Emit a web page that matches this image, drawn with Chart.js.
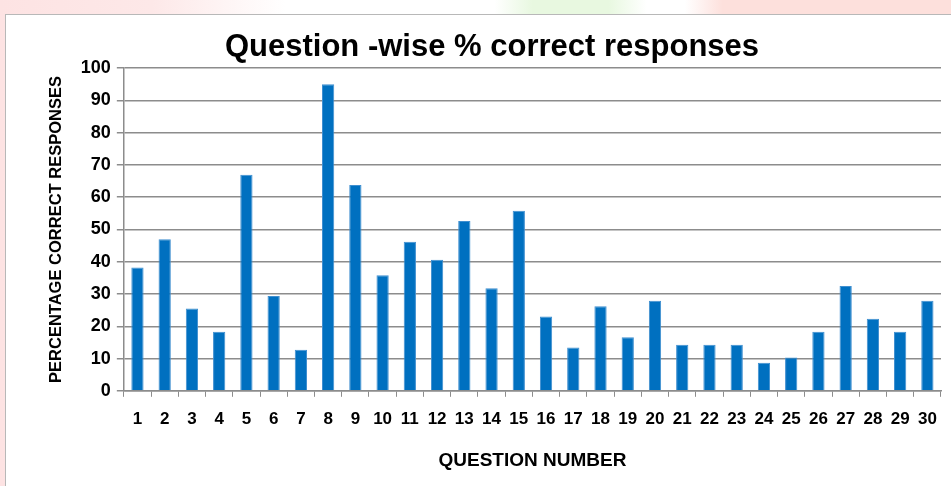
<!DOCTYPE html>
<html>
<head>
<meta charset="utf-8">
<script src="https://cdn.jsdelivr.net/npm/chart.js@4"></script>
<style>
  html, body { margin: 0; padding: 0; }
  body {
    width: 951px; height: 486px; overflow: hidden; position: relative;
    background: linear-gradient(90deg, #fde3e3 0%, #fde8e8 16%, #ffffff 30%, #ffffff 52%, #e8f8e0 56%, #e8f8e0 64%, #ffffff 68%, #ffffff 72%, #fde0dc 76%, #fde0dc 100%);
  }
  #box {
    position: absolute; left: 5px; top: 14px; width: 950px; height: 480px;
    background: #fff; border: 1px solid #b8b8b8;
  }
  #wrap { position: absolute; left: 0; top: 0; width: 946px; height: 472px; }
</style>
</head>
<body>
<div id="box"><div id="wrap"><canvas id="grafico"></canvas></div></div>
<script>
const questoes = ['1','2','3','4','5','6','7','8','9','10','11','12','13','14','15','16','17','18','19','20','21','22','23','24','25','26','27','28','29','30'];
const acertos = [38.2, 47, 25.5, 18.3, 67, 29.4, 12.7, 95, 63.8, 35.8, 46.2, 40.6, 52.6, 31.8, 55.8, 23, 13.4, 26.2, 16.6, 27.9, 14.3, 14.3, 14.3, 8.7, 10.3, 18.3, 32.5, 22.3, 18.3, 27.9];
const ticksY = [0, 10, 20, 30, 40, 50, 60, 70, 80, 90, 100];

const fonte = "'Liberation Sans', Arial, sans-serif";
const ctx = document.getElementById('grafico').getContext('2d');

new Chart(ctx, {
  type: 'bar',
  data: {
    labels: questoes,
    datasets: [{
      label: '% correct',
      data: acertos,
      backgroundColor: '#0070c0',
      borderColor: '#3f8fd0',
      borderWidth: { top: 1, left: 1, right: 1, bottom: 0 },
      barPercentage: 0.45,
      categoryPercentage: 1
    }]
  },
  options: {
    responsive: true,
    maintainAspectRatio: false,
    animation: false,
    layout: { padding: { left: 37, right: 11, top: 0, bottom: 11 } },
    plugins: {
      legend: { display: false },
      tooltip: { enabled: false },
      title: {
        display: true,
        text: 'Question -wise % correct responses',
        color: '#000',
        font: { family: fonte, size: 31, weight: 'bold' },
        padding: { top: 14, bottom: 2 }
      }
    },
    scales: {
      x: {
        offset: true,
        grid: { display: true, offset: true, drawOnChartArea: false, color: '#8c8c8c', tickLength: 6, lineWidth: 1 },
        border: { color: '#8c8c8c', width: 1.5 },
        ticks: { color: '#000', font: { family: fonte, size: 17, weight: 'bold' }, padding: 12, maxRotation: 0, autoSkip: false },
        title: { display: true, text: 'QUESTION NUMBER', color: '#000', font: { family: fonte, size: 19, weight: 'bold' }, padding: { top: 8 } }
      },
      y: {
        min: 0,
        max: 100,
        afterBuildTicks: (axis) => { axis.ticks = ticksY.map(v => ({ value: v })); },
        grid: { color: '#8c8c8c', lineWidth: 1.5, tickLength: 7 },
        border: { color: '#8c8c8c', width: 1.5 },
        ticks: { color: '#000', font: { family: fonte, size: 18, weight: 'bold' }, padding: 6 },
        title: { display: true, text: 'PERCENTAGE CORRECT RESPONSES', color: '#000', font: { family: fonte, size: 16.5, weight: 'bold' }, padding: { bottom: 8 } }
      }
    }
  }
});
</script>
</body>
</html>
